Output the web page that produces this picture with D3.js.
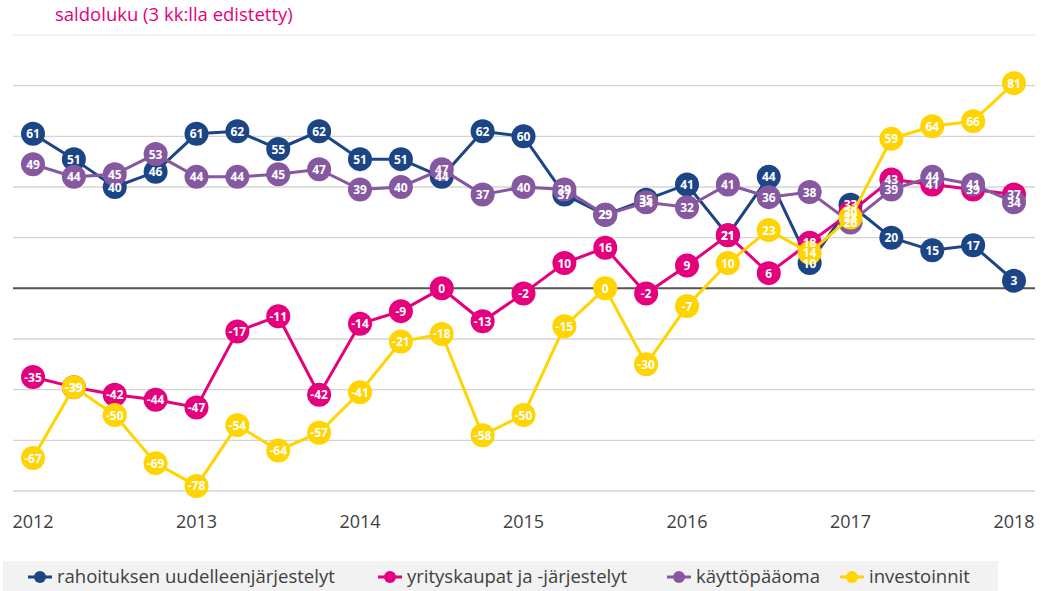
<!DOCTYPE html>
<html><head><meta charset="utf-8">
<script src="https://cdn.jsdelivr.net/npm/d3@7"></script>
<style>body{margin:0;background:#fff}svg{display:block}</style>
</head><body>
<svg id="c" width="1043" height="591"></svg>
<script>
const quarters = d3.range(25); // 2012 Q1 .. 2018 Q1
const yearLabels = ["2012","2013","2014","2015","2016","2017","2018"];
const seriesNames = ["rahoituksen uudelleenjärjestelyt","yrityskaupat ja -järjestelyt","käyttöpääoma","investoinnit"];
const rahoitus = [61,51,40,46,61,62,55,62,51,51,44,62,60,37,29,35,41,21,44,10,33,20,15,17,3];
const yrityskaupat = [-35,-39,-42,-44,-47,-17,-11,-42,-14,-9,0,-13,-2,10,16,-2,9,21,6,18,30,43,41,39,37];
const kayttopaaoma = [49,44,45,53,44,44,45,47,39,40,47,37,40,39,29,34,32,41,36,38,26,39,44,41,34];
const investoinnit = [-67,-39,-50,-69,-78,-54,-64,-57,-41,-21,-18,-58,-50,-15,0,-30,-7,10,23,14,28,59,64,66,81];
const gridTicks = [-80,-60,-40,-20,0,20,40,60,80,100];
const colors = ["#1b4585","#e5007d","#8558a0","#ffd400"];
const allSeries = [rahoitus, yrityskaupat, kayttopaaoma, investoinnit];

const svg = d3.select("#c");
const x = d3.scaleLinear().domain([0,24]).range([33,1014]);
const y = d3.scaleLinear().domain([-80,100]).range([491,35]);
const font = "'Open Sans',sans-serif";

// title
svg.append("text").attr("x",55).attr("y",21).attr("fill","#e5007d")
  .style("font-family",font).style("font-size","18.5px").text("saldoluku (3 kk:lla edistetty)");

// gridlines
svg.append("g").selectAll("line").data(gridTicks.filter(d=>d!==0)).join("line")
  .attr("x1",13).attr("x2",1035).attr("y1",d=>y(d)).attr("y2",d=>y(d))
  .attr("stroke",d=>d===100?"#eeeeee":"#d4d4d4").attr("stroke-width",1.3);
svg.append("line").attr("x1",13).attr("x2",1035).attr("y1",y(0)).attr("y2",y(0))
  .attr("stroke","#555").attr("stroke-width",2);

// x labels
svg.append("g").selectAll("text").data(yearLabels).join("text")
  .attr("x",(d,i)=>x(i*4)).attr("y",528).attr("text-anchor","middle")
  .attr("fill","#404040").style("font-family",font).style("font-size","18px")
  .text(d=>d);

const line = d3.line().x((d,i)=>x(i)).y(d=>y(d));
allSeries.forEach((s,k)=>{
  const g = svg.append("g");
  g.append("path").datum(s).attr("d",line).attr("fill","none").attr("stroke",colors[k]).attr("stroke-width",3);
  g.selectAll("circle").data(s).join("circle").attr("cx",(d,i)=>x(i)).attr("cy",d=>y(d)).attr("r",12).attr("fill",colors[k]);
});
allSeries.forEach((s,k)=>{
  svg.append("g").selectAll("text").data(s).join("text").attr("x",(d,i)=>x(i)).attr("y",d=>y(d)+4.5)
    .attr("text-anchor","middle").attr("fill","#fff")
    .style("font-family",font).style("font-size","12px").style("font-weight","bold")
    .text(d=>d);
});

// legend
svg.append("rect").attr("x",3).attr("y",561).attr("width",995).attr("height",30).attr("fill","#f2f2f2");
const legX = [28, 378, 667, 840];
seriesNames.forEach((n,k)=>{
  const g = svg.append("g").attr("transform",`translate(${legX[k]},577)`);
  g.append("line").attr("x1",0).attr("x2",24).attr("stroke",colors[k]).attr("stroke-width",3);
  g.append("circle").attr("cx",12).attr("r",6).attr("fill",colors[k]);
  g.append("text").attr("x",29).attr("y",6).attr("fill","#404040")
    .style("font-family",font).style("font-size","18.5px").text(n);
});
</script>
</body></html>
